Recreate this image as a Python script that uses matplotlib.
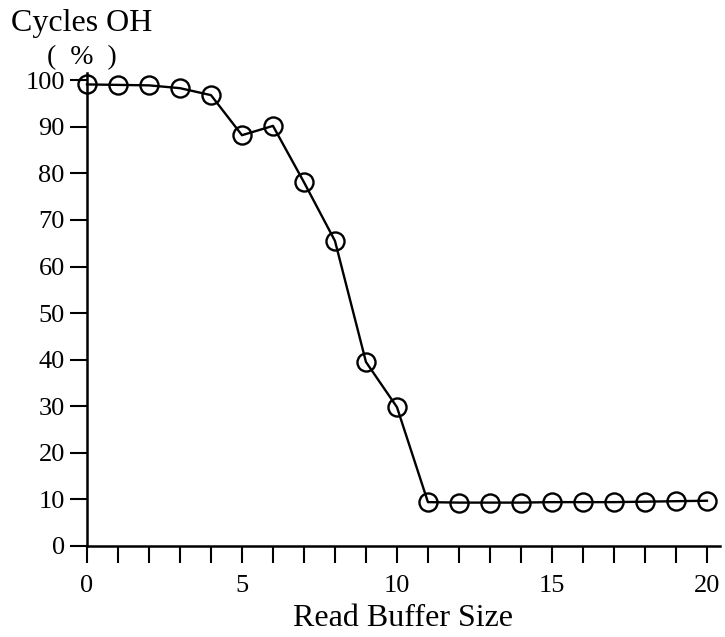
import matplotlib
matplotlib.use("Agg")
import matplotlib.pyplot as plt
from matplotlib.ticker import MultipleLocator

# Data
buffer_size = list(range(0, 21))
cycles_oh = [99.1, 99.0, 98.9, 98.3, 96.8, 88.2, 90.2, 78.1, 65.5, 39.5, 29.8,
             9.4, 9.3, 9.3, 9.3, 9.4, 9.4, 9.4, 9.5, 9.6, 9.7]
x_ticks = [0, 5, 10, 15, 20]
y_ticks = [0, 10, 20, 30, 40, 50, 60, 70, 80, 90, 100]

plt.rcParams["font.family"] = ["Liberation Serif", "DejaVu Serif"]

fig = plt.figure(figsize=(7.25, 6.37), dpi=100)
ax = fig.add_axes([0.12, 0.143, 0.873, 0.742])

ax.plot(buffer_size, cycles_oh, color="black", linewidth=1.7,
        marker="o", markersize=13, markerfacecolor="none",
        markeredgecolor="black", markeredgewidth=1.7, clip_on=False)

ax.set_xlim(0, 20.42)
ax.set_ylim(0, 101.5)
ax.set_xticks(x_ticks)
ax.set_yticks(y_ticks)
ax.xaxis.set_minor_locator(MultipleLocator(1))

for side in ("top", "right"):
    ax.spines[side].set_visible(False)
for side in ("left", "bottom"):
    ax.spines[side].set_linewidth(1.8)

ax.tick_params(axis="y", which="major", direction="out", length=12, width=1.5,
               pad=4, labelsize=19)
ax.tick_params(axis="x", which="both", direction="out", length=12, width=1.5,
               pad=9, labelsize=19)

ax.set_xlabel("Read Buffer Size", fontsize=23, labelpad=5)

fig.text(0.015, 0.952, "Cycles OH", fontsize=23, ha="left", va="baseline")
fig.text(0.113, 0.9, "(  %  )", fontsize=20, ha="center", va="baseline")

fig.savefig("out.png", dpi=100)
